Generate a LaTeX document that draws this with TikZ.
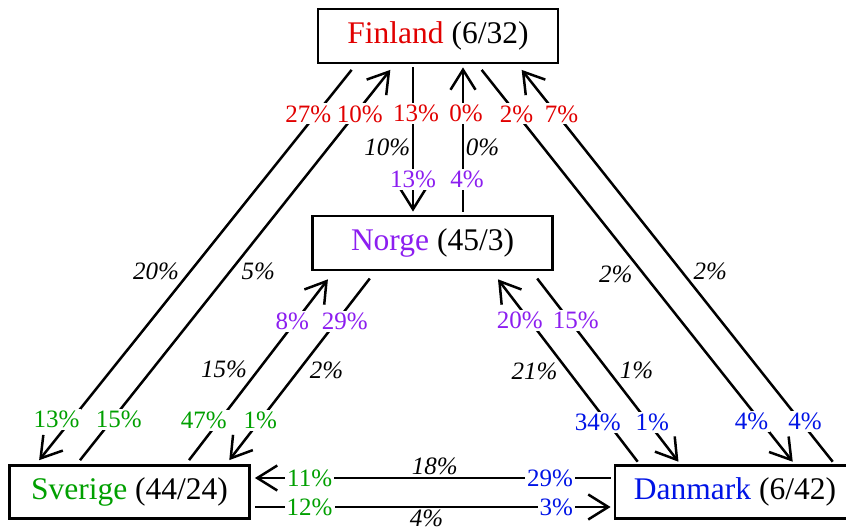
\documentclass[tikz,border=0pt]{standalone}
\usepackage{fontspec}
\setmainfont{Liberation Serif}
\usetikzlibrary{arrows.meta}
\definecolor{cred}{RGB}{225,0,0}
\definecolor{cgreen}{RGB}{0,160,0}
\definecolor{cblue}{RGB}{0,20,230}
\definecolor{cpurple}{RGB}{140,30,240}
\begin{document}
\begin{tikzpicture}[x=1pt,y=-1pt,
  box/.style={draw, line width=2.8pt, minimum width=240pt, minimum height=54pt, inner sep=0pt, font=\fontsize{31.5}{36}\selectfont},
  conn/.style={line width=2.5pt, -{Straight Barb[length=20pt,width=25pt]}},
  lab/.style={fill=white, inner sep=2pt, font=\fontsize{25}{30}\selectfont},
  ital/.style={inner sep=1.5pt, font=\fontsize{25}{30}\selectfont\itshape},
]
\useasboundingbox (0,0) rectangle (846,529);
\fill[white] (0,0) rectangle (846,529);

\node[box] (F) at (438,36) {\textcolor{cred}{Finland} (6/32)};
\node[box] (N) at (432.5,243) {\textcolor{cpurple}{Norge} (45/3)};
\node[box, minimum height=53pt] (S) at (129.5,492) {\textcolor{cgreen}{Sverige} (44/24)};
\node[box, minimum height=53pt] (D) at (735,492) {\textcolor{cblue}{Danmark} (6/42)};

% Finland <-> Norge
\draw[conn, shorten <=3pt, shorten >=3pt] ([xshift=-25pt]F.south) -- ([xshift=-19.5pt]N.north)
  node[lab, text=cred, pos=0.327, xshift=3pt] (l1a) {13\%}
  node[ital, left, pos=0.549] (l1b) {10\%}
  node[lab, text=cpurple, pos=0.765] (l1c) {13\%};
\draw[conn, shorten <=3pt, shorten >=3pt] ([xshift=30.5pt]N.north) -- ([xshift=25pt]F.south)
  node[lab, text=cpurple, pos=0.235, xshift=4pt] (l2a) {4\%}
  node[ital, right, pos=0.451] (l2b) {0\%}
  node[lab, text=cred, pos=0.673, xshift=3pt] (l2c) {0\%};

% Finland <-> Sverige
\draw[conn, shorten <=7pt, shorten >=5pt] ([xshift=-82pt]F.south) -- ([xshift=-93.5pt]S.north)
  node[lab, text=cred, pos=0.124, xshift=-8pt] (l3a) {27\%}
  node[ital, above left, pos=0.545] (l3b) {20\%}
  node[lab, text=cgreen, pos=0.889, xshift=-15pt] (l3c) {13\%};
\draw[conn, shorten <=5pt, shorten >=7pt] ([xshift=-52.6pt]S.north) -- ([xshift=-43.3pt]F.south)
  node[lab, text=cgreen, pos=0.111, xshift=6.5pt] (l4a) {15\%}
  node[ital, below right, pos=0.51] (l4b) {5\%}
  node[lab, text=cred, pos=0.876, xshift=4.5pt] (l4c) {10\%};

% Finland <-> Danmark
\draw[conn, shorten <=7pt, shorten >=3pt] ([xshift=39.3pt]F.south) -- ([xshift=59.6pt]D.north)
  node[lab, text=cred, pos=0.124] (l5a) {2\%}
  node[ital, below left, pos=0.4975] (l5b) {2\%}
  node[lab, text=cblue, pos=0.893, xshift=-9pt] (l5c) {4\%};
\draw[conn, shorten <=3pt, shorten >=7pt] ([xshift=99.6pt]D.north) -- ([xshift=79.3pt]F.south)
  node[lab, text=cblue, pos=0.107, xshift=4.5pt] (l6a) {4\%}
  node[ital, above right, pos=0.453] (l6b) {2\%}
  node[lab, text=cred, pos=0.876, xshift=5pt] (l6c) {7\%};

% Sverige <-> Norge
\draw[conn, shorten <=5pt, shorten >=10pt] ([xshift=56.5pt]S.north) -- ([xshift=-98.5pt]N.south)
  node[lab, text=cgreen, pos=0.228, xshift=-16pt] (l7a) {47\%}
  node[ital, above left, pos=0.431] (l7b) {15\%}
  node[lab, text=cpurple, pos=0.741, xshift=-3.5pt] (l7c) {8\%};
\draw[conn, shorten <=9pt, shorten >=5pt] ([xshift=-57.2pt]N.south) -- ([xshift=96.7pt]S.north)
  node[lab, text=cpurple, pos=0.259, xshift=8pt] (l8a) {29\%}
  node[ital, below right, pos=0.457] (l8b) {2\%}
  node[lab, text=cgreen, pos=0.772] (l8c) {1\%};

% Danmark <-> Norge
\draw[conn, shorten <=3pt, shorten >=10pt] ([xshift=-95.5pt]D.north) -- ([xshift=59.4pt]N.south)
  node[lab, text=cblue, pos=0.215, xshift=-10pt] (l9a) {34\%}
  node[ital, below left, pos=0.538] (l9b) {21\%}
  node[lab, text=cpurple, pos=0.744, xshift=-10pt] (l9c) {20\%};
\draw[conn, shorten <=9pt, shorten >=3pt] ([xshift=99.2pt]N.south) -- ([xshift=-54.7pt]D.north)
  node[lab, text=cpurple, pos=0.256, xshift=6pt] (l10a) {15\%}
  node[ital, above right, pos=0.574] (l10b) {1\%}
  node[lab, text=cblue, pos=0.785, xshift=4pt] (l10c) {1\%};

% Danmark <-> Sverige
\draw[conn, shorten <=3pt, shorten >=4pt] ([yshift=14pt]D.west) -- ([yshift=14pt]S.east)
  node[lab, text=cblue, pos=0.175] (l11a) {29\%}
  node[ital, above, pos=0.493] (l11b) {18\%}
  node[lab, text=cgreen, pos=0.838] (l11c) {11\%};
\draw[conn, shorten <=4pt, shorten >=3pt] ([yshift=-15pt]S.east) -- ([yshift=-15pt]D.west)
  node[lab, text=cgreen, pos=0.162] (l12a) {12\%}
  node[ital, below, pos=0.484] (l12b) {4\%}
  node[lab, text=cblue, pos=0.842] (l12c) {3\%};
\end{tikzpicture}
\end{document}
